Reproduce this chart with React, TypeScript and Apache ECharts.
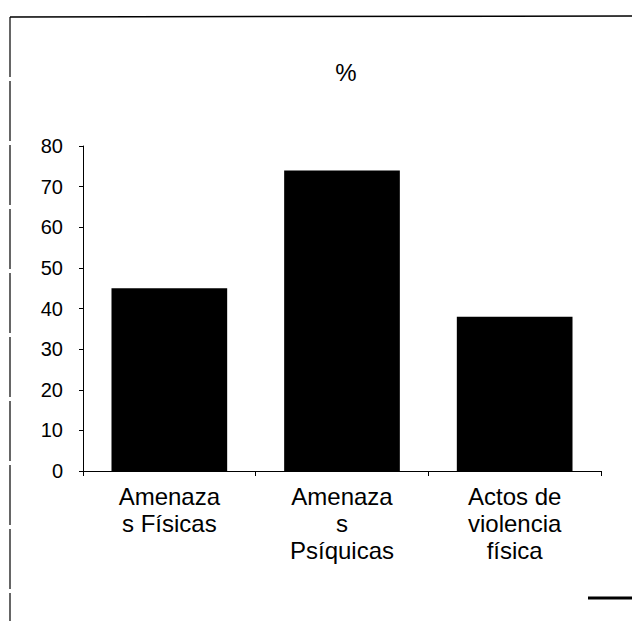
import React, { useEffect, useRef } from "react";
import * as echarts from "echarts";

const categories = ["Amenaza\ns Físicas", "Amenaza\ns\nPsíquicas", "Actos de\nviolencia\nfísica"];
const values = [45, 74, 38];
const yTicks = { min: 0, max: 80, interval: 10 };
const title = "%";

export default function App() {
  const ref = useRef<HTMLDivElement>(null);
  useEffect(() => {
    if (!ref.current) return;
    const chart = echarts.init(ref.current, null, { renderer: "svg" });
    const font = "'Liberation Sans', Arial, sans-serif";
    chart.setOption({
      animation: false,
      backgroundColor: "#ffffff",
      title: {
        text: title,
        left: 341,
        top: 55,
        textAlign: "center",
        textStyle: { fontFamily: font, fontSize: 24, fontWeight: "normal", color: "#000" },
      },
      grid: { left: 83, right: 31, top: 146, bottom: 150 },
      xAxis: {
        type: "category",
        data: categories,
        axisLine: { show: true, lineStyle: { color: "#000", width: 1 } },
        axisTick: { show: true, length: 5, lineStyle: { color: "#000" } },
        axisLabel: {
          fontFamily: font,
          fontSize: 24,
          color: "#000",
          lineHeight: 27,
          margin: 12,
          interval: 0,
        },
      },
      yAxis: {
        type: "value",
        min: yTicks.min,
        max: yTicks.max,
        interval: yTicks.interval,
        splitLine: { show: false },
        axisLine: { show: true, lineStyle: { color: "#000", width: 1 } },
        axisTick: { show: true, length: 4, lineStyle: { color: "#000" } },
        axisLabel: {
          fontFamily: font,
          fontSize: 20,
          color: "#000",
          margin: 20,
        },
      },
      series: [
        {
          type: "bar",
          data: values,
          barCategoryGap: "33%",
          itemStyle: { color: "#000" },
        },
      ],
      graphic: [
        { type: "line", shape: { x1: 10, y1: 17, x2: 632, y2: 16 }, style: { stroke: "#000", lineWidth: 1.5 } },
        { type: "line", shape: { x1: 10, y1: 17, x2: 10, y2: 621 }, style: { stroke: "#000", lineWidth: 1.2, lineDash: [60, 4] } },
        { type: "line", shape: { x1: 588, y1: 598, x2: 632, y2: 598 }, style: { stroke: "#000", lineWidth: 3 } },
      ],
    });
    return () => chart.dispose();
  }, []);
  return (
    <div
      ref={ref}
      style={{ position: "fixed", left: 0, top: 0, width: 632, height: 621 }}
    />
  );
}
